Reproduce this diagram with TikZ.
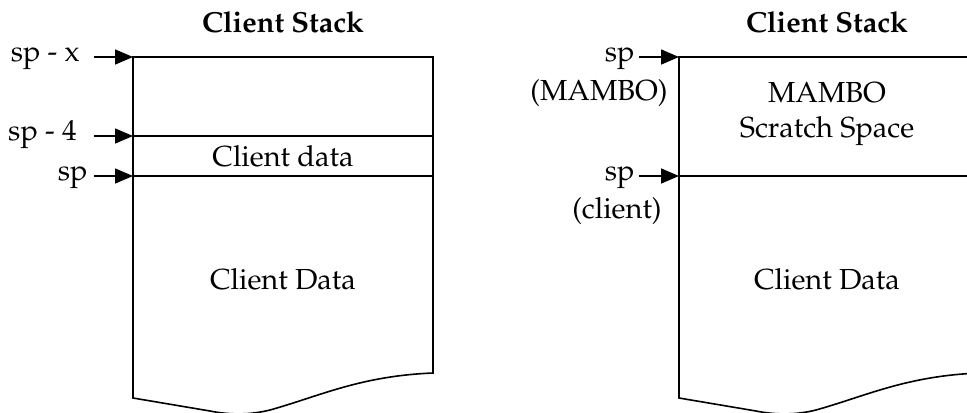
\documentclass[tikz,border=0pt]{standalone}
\usepackage[T1]{fontenc}
\usepackage{mathpazo}
\usepackage{tikz}
\usetikzlibrary{arrows.meta, positioning}

\begin{document}
\begin{tikzpicture}[
    x=0.5pt, y=-0.5pt,
    stackbox/.style={line width=0.8pt},
    divider/.style={line width=0.8pt},
    ptr/.style={-{Triangle[length=9pt, width=7.5pt]}, line width=0.8pt},
    ptrlabel/.style={anchor=east, inner xsep=2pt, inner ysep=0pt, text height=0.76em, text depth=0.3em, font=\fontsize{14.5}{17}\selectfont},
    sublabel/.style={anchor=east, inner sep=0pt, font=\fontsize{14.5}{17}\selectfont},
    boxtext/.style={align=center, inner sep=0pt, font=\fontsize{14.5}{17.5}\selectfont},
    stacktitle/.style={inner sep=0pt, font=\fontsize{14.5}{17}\selectfont\bfseries}
]
\clip (0,0) rectangle (967,412);

% Left stack: coordinates on the left edge
\coordinate (ltop) at (133,57);
\coordinate (lmid) at (133,136);
\coordinate (lsp) at (133,176);

\node[stacktitle] (ltitle) at (283,22) {Client Stack};
\draw[stackbox] (ltop) -- (433,57) -- (433,373)
    .. controls (360,376) and (320,396) .. (270,410)
    .. controls (250,415) and (230,415) .. (210,411)
    -- (133,398) -- cycle;
\draw[divider] (lmid) -- (433,136);
\draw[divider] (lsp) -- (433,176);
\node[boxtext] (ldata) at (283,156) {Client data};
\node[boxtext] (lrest) at (283,279) {Client Data};

% Left stack pointers
\node[ptrlabel, inner xsep=7pt] (lspx) at (94,57) {sp - x};
\node[ptrlabel, inner xsep=8.5pt] (lsp4) at (94,136) {sp - 4};
\node[ptrlabel, inner xsep=3pt] (lspc) at (94,176) {sp};
\draw[ptr] (lspx) -- (ltop);
\draw[ptr] (lsp4) -- (lmid);
\draw[ptr] (lspc) -- (lsp);

% Right stack: coordinates on the left edge
\coordinate (rtop) at (679,57);
\coordinate (rsp) at (679,176);

\node[stacktitle] (rtitle) at (827,22) {Client Stack};
\draw[stackbox] (rtop) -- (979,57) -- (979,373)
    .. controls (906,376) and (866,396) .. (816,410)
    .. controls (796,415) and (776,415) .. (756,411)
    -- (679,398) -- cycle;
\draw[divider] (rsp) -- (979,176);
\node[boxtext] (rscratch) at (827,114) {MAMBO\\Scratch Space};
\node[boxtext] (rrest) at (827,279) {Client Data};

% Right stack pointers
\node[ptrlabel] (rspm) at (639,57) {sp};
\node[sublabel] (rmambo) at (668,93) {(MAMBO)};
\node[ptrlabel] (rspc) at (639,176) {sp};
\node[sublabel] (rclient) at (662,211) {(client)};
\draw[ptr] (rspm) -- (rtop);
\draw[ptr] (rspc) -- (rsp);

\end{tikzpicture}
\end{document}
